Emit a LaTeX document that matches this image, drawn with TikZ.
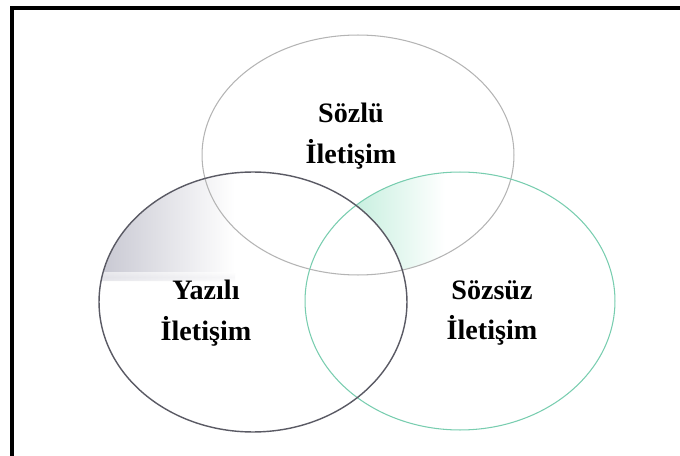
\documentclass[tikz,border=0pt]{standalone}
\usepackage{fontspec}
\setmainfont{Liberation Serif}
\usetikzlibrary{shapes.geometric, positioning}
\definecolor{ringgray}{RGB}{180,180,180}
\definecolor{ringdark}{RGB}{90,90,100}
\definecolor{ringteal}{RGB}{120,205,175}
\definecolor{shadeteal}{RGB}{185,235,215}
\definecolor{shadegray}{RGB}{200,200,210}

\begin{document}
\begin{tikzpicture}[x=0.02cm, y=-0.02cm,
  ring/.style={ellipse, draw, line width=0.6pt, inner sep=0pt},
  lbl/.style={font=\bfseries\fontsize{16}{23}\selectfont, align=center}]
\useasboundingbox (0,0) rectangle (680,456);
% shading under the rings
\begin{scope}
\clip (460,301) ellipse [x radius=3.1cm, y radius=2.58cm];
\clip (358,155) ellipse [x radius=3.12cm, y radius=2.4cm];
\shade [left color=shadeteal, right color=white] (330,170) rectangle (445,285);
\end{scope}
\fill [white] (253,302) ellipse [x radius=3.08cm, y radius=2.6cm];
\begin{scope}
\clip (253,302) ellipse [x radius=3.08cm, y radius=2.6cm];
\shade [left color=shadegray, right color=white] (100,170) rectangle (235,280);
\shade [top color=white, bottom color=white, middle color=white!80!shadegray, opacity=0.6] (100,272) rectangle (235,282);
\end{scope}
% rings
\node [ring, draw=ringgray, minimum width=6.24cm, minimum height=4.8cm] (sozlu) at (358,155) {};
\node [ring, draw=ringteal, minimum width=6.2cm, minimum height=5.16cm] (sozsuz) at (460,301) {};
\node [ring, draw=ringdark, line width=0.8pt, minimum width=6.16cm, minimum height=5.2cm] (yazili) at (253,302) {};
% labels
\node [lbl] (sozluText) at (351,136) {Sözlü\\İletişim};
\node [lbl] (yaziliText) at (206,313) {Yazılı\\İletişim};
\node [lbl] (sozsuzText) at (492,313) {Sözsüz\\İletişim};
% frame
\draw [line width=2.3pt] (680,8) -- (12,8) -- (12,456);
\end{tikzpicture}
\end{document}
